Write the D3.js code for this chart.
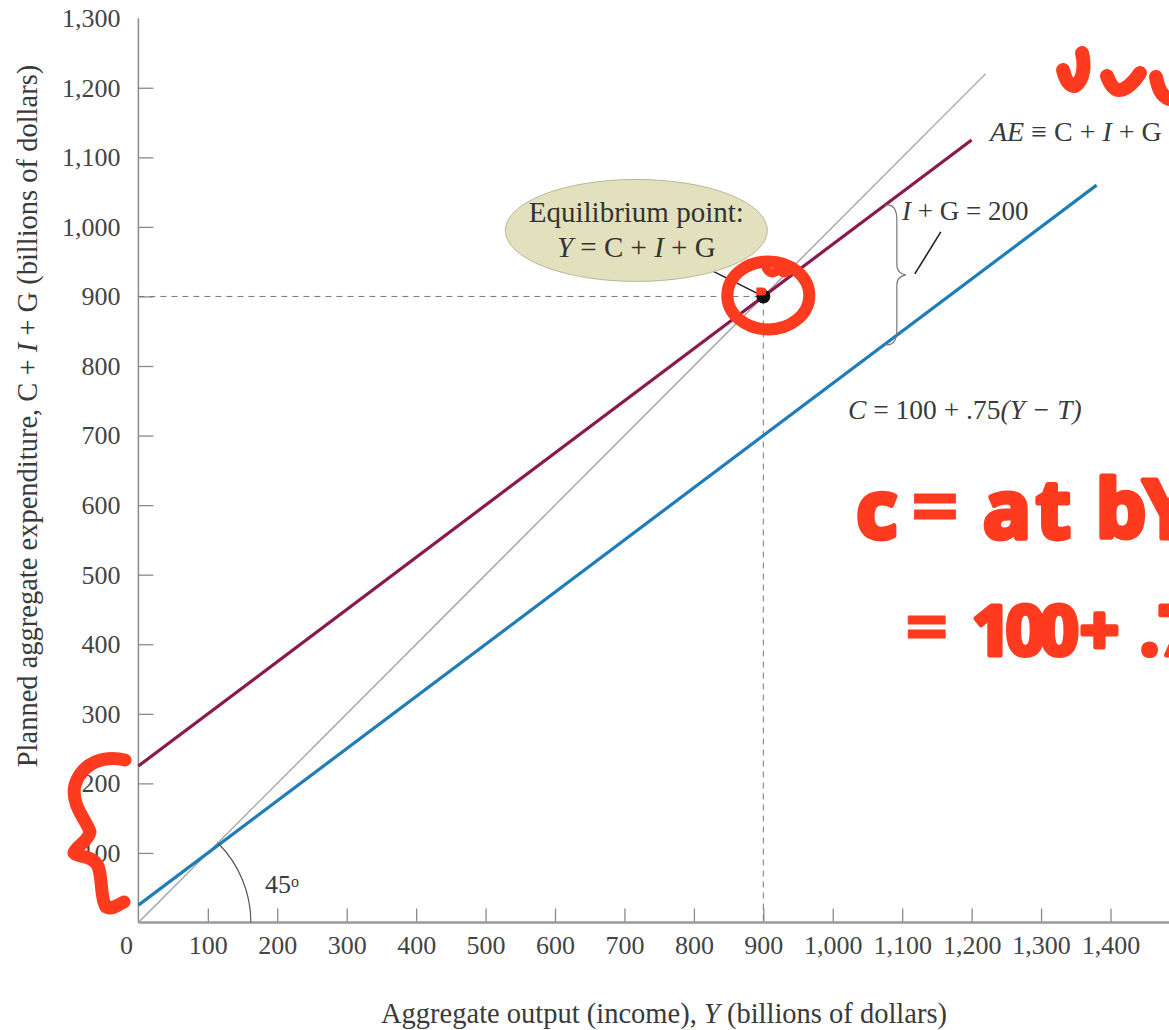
<!DOCTYPE html>
<html>
<head>
<meta charset="utf-8">
<script src="https://cdn.jsdelivr.net/npm/d3@7"></script>
<style>
  html, body { margin: 0; padding: 0; background: #fff; }
  svg text.serif { font-family: "Liberation Serif", "DejaVu Serif", serif; fill: #3a3a3a; }
</style>
</head>
<body>
<div id="graphic"></div>
<script>
// Chart data
var xTicks = [100, 200, 300, 400, 500, 600, 700, 800, 900, 1000, 1100, 1200, 1300, 1400];
var yTicks = [100, 200, 300, 400, 500, 600, 700, 800, 900, 1000, 1100, 1200, 1300];
var diagonal = [[0, 0], [1220, 1220]];            // 45 degree line
var aeLine = [[0, 225], [1200, 1125]];            // AE = C + I + G
var consumption = [[0, 25], [1380, 1060]];        // C = 100 + .75(Y - T)
var equilibrium = [900, 900];
var braceSpan = [1075, 1031, 831];                // x, AE value, C value

var W = 1169, H = 1030;

var svg = d3.select('#graphic').append('svg')
  .attr('width', W)
  .attr('height', H);

var x = d3.scaleLinear().domain([0, 1400]).range([138.4, 1110.5]);
var y = d3.scaleLinear().domain([0, 1300]).range([922.5, 18.2]);
var fmt = d3.format(',');

var line = d3.line()
  .x(function (d) { return x(d[0]); })
  .y(function (d) { return y(d[1]); });

// Axes
var xAxis = svg.append('g')
  .attr('transform', 'translate(0,' + y(0) + ')')
  .call(d3.axisBottom(x).tickValues(xTicks).tickFormat(fmt).tickSize(-14).tickPadding(13));
var yAxis = svg.append('g')
  .attr('transform', 'translate(' + x(0) + ',0)')
  .call(d3.axisLeft(y).tickValues(yTicks).tickFormat(fmt).tickSize(-15).tickPadding(18));

[xAxis, yAxis].forEach(function (g) {
  g.select('.domain').remove();
  g.selectAll('.tick line').attr('stroke', '#8a8a8a').attr('stroke-width', 1.3);
  g.selectAll('.tick text')
    .attr('class', 'serif')
    .style('font-size', '26px')
    .style('fill', '#444');
});
yAxis.selectAll('.tick').filter(function (d) { return d === 1300; }).select('line').remove();

svg.append('line')
  .attr('x1', x(0)).attr('x2', W)
  .attr('y1', y(0)).attr('y2', y(0))
  .attr('stroke', '#9a9a9a').attr('stroke-width', 2.5);
svg.append('line')
  .attr('x1', x(0)).attr('x2', x(0))
  .attr('y1', y(0)).attr('y2', y(1300))
  .attr('stroke', '#8a8a8a').attr('stroke-width', 1.5);

svg.append('text')
  .attr('class', 'serif')
  .attr('x', x(0) - 12).attr('y', y(0) + 13).attr('dy', '0.71em')
  .attr('text-anchor', 'middle')
  .style('font-size', '26px')
  .style('fill', '#444')
  .text('0');

// Axis titles
var xTitle = svg.append('text')
  .attr('class', 'serif')
  .attr('x', 664).attr('y', 1023)
  .attr('text-anchor', 'middle')
  .style('font-size', '28.5px');
xTitle.append('tspan').text('Aggregate output (income), ');
xTitle.append('tspan').style('font-style', 'italic').text('Y');
xTitle.append('tspan').text(' (billions of dollars)');

var yTitle = svg.append('text')
  .attr('class', 'serif')
  .attr('transform', 'translate(37,416) rotate(-90)')
  .attr('text-anchor', 'middle')
  .style('font-size', '28.5px');
yTitle.append('tspan').text('Planned aggregate expenditure,  C + ');
yTitle.append('tspan').style('font-style', 'italic').text('I');
yTitle.append('tspan').text(' + G (billions of dollars)');

// Dashed guides to the equilibrium
svg.append('path')
  .attr('d', line([[0, equilibrium[1]], equilibrium, [equilibrium[0], 0]]))
  .attr('fill', 'none')
  .attr('stroke', '#777')
  .attr('stroke-width', 1)
  .attr('stroke-dasharray', '6,5');

// Lines
svg.append('path')
  .attr('d', line(diagonal))
  .attr('fill', 'none').attr('stroke', '#a0a0a0').attr('stroke-width', 1.3);
svg.append('path')
  .attr('d', line(consumption))
  .attr('fill', 'none').attr('stroke', '#1f7db8').attr('stroke-width', 3.2);
svg.append('path')
  .attr('d', line(aeLine))
  .attr('fill', 'none').attr('stroke', '#8a1a4e').attr('stroke-width', 3.2);

// 45 degree arc
var r = x(162) - x(0);
svg.append('path')
  .attr('d', 'M' + (x(0) + r) + ',' + y(0) + ' A' + r + ',' + r + ' 0 0 0 ' +
    (x(0) + r * Math.SQRT1_2) + ',' + (y(0) - r * Math.SQRT1_2))
  .attr('fill', 'none').attr('stroke', '#555').attr('stroke-width', 1.2);
var deg = svg.append('text')
  .attr('class', 'serif')
  .attr('x', 265).attr('y', 893)
  .style('font-size', '26px');
deg.append('tspan').text('45');
deg.append('tspan').attr('dy', -6).style('font-size', '16px').text('o');

// Equilibrium callout
var ex = x(equilibrium[0]), ey = y(equilibrium[1]);
svg.append('line')
  .attr('x1', ex - 50).attr('y1', ey - 25)
  .attr('x2', ex).attr('y2', ey)
  .attr('stroke', '#222').attr('stroke-width', 1.5);
svg.append('ellipse')
  .attr('cx', ex - 127).attr('cy', ey - 66)
  .attr('rx', 131).attr('ry', 51)
  .attr('fill', '#e3e1bd').attr('stroke', '#b9b79a').attr('stroke-width', 1);
svg.append('text')
  .attr('class', 'serif')
  .attr('x', ex - 127).attr('y', ey - 74)
  .attr('text-anchor', 'middle')
  .style('font-size', '29px').style('fill', '#333')
  .text('Equilibrium point:');
var eqT = svg.append('text')
  .attr('class', 'serif')
  .attr('x', ex - 127).attr('y', ey - 39)
  .attr('text-anchor', 'middle')
  .style('font-size', '29px').style('fill', '#333');
eqT.append('tspan').style('font-style', 'italic').text('Y');
eqT.append('tspan').text(' = C + ');
eqT.append('tspan').style('font-style', 'italic').text('I');
eqT.append('tspan').text(' + G');
svg.append('circle')
  .attr('cx', ex).attr('cy', ey).attr('r', 7)
  .attr('fill', '#111');

// Brace for I + G
var bx = x(braceSpan[0]), bTop = y(braceSpan[1]), bBot = y(braceSpan[2]);
var bMid = (bTop + bBot) / 2;
svg.append('path')
  .attr('d', 'M' + bx + ',' + bTop +
    ' C' + (bx + 8) + ',' + (bTop - 2) + ' ' + (bx + 12) + ',' + (bTop + 4) + ' ' + (bx + 12) + ',' + (bTop + 14) +
    ' L' + (bx + 12) + ',' + (bMid - 10) +
    ' C' + (bx + 12) + ',' + (bMid - 3) + ' ' + (bx + 16) + ',' + (bMid - 1) + ' ' + (bx + 21) + ',' + bMid +
    ' C' + (bx + 16) + ',' + (bMid + 1) + ' ' + (bx + 12) + ',' + (bMid + 3) + ' ' + (bx + 12) + ',' + (bMid + 10) +
    ' L' + (bx + 12) + ',' + (bBot - 14) +
    ' C' + (bx + 12) + ',' + (bBot - 4) + ' ' + (bx + 8) + ',' + (bBot + 2) + ' ' + bx + ',' + bBot)
  .attr('fill', 'none').attr('stroke', '#777').attr('stroke-width', 1.2);
svg.append('line')
  .attr('x1', bx + 30).attr('y1', bMid - 1)
  .attr('x2', bx + 56).attr('y2', bMid - 43)
  .attr('stroke', '#222').attr('stroke-width', 1.6);
var igT = svg.append('text')
  .attr('class', 'serif')
  .attr('x', 902).attr('y', 220)
  .style('font-size', '27px');
igT.append('tspan').style('font-style', 'italic').text('I');
igT.append('tspan').text(' + G = 200');

// Line labels
var aeT = svg.append('text').attr('class', 'serif')
  .attr('x', 990).attr('y', 141).style('font-size', '28px');
aeT.append('tspan').style('font-style', 'italic').text('AE');
aeT.append('tspan').text(' \u2261 C + ');
aeT.append('tspan').style('font-style', 'italic').text('I');
aeT.append('tspan').text(' + G');

var cT = svg.append('text').attr('class', 'serif')
  .attr('x', 848).attr('y', 419).style('font-size', '27.5px');
cT.append('tspan').style('font-style', 'italic').text('C');
cT.append('tspan').text(' = 100 + .75');
cT.append('tspan').style('font-style', 'italic').text('(Y \u2212 T)');

// Red hand annotations
var red = '#ff3b1f';
var scribble = svg.append('g')
  .attr('fill', 'none').attr('stroke', red)
  .attr('stroke-linecap', 'round').attr('stroke-linejoin', 'round');
scribble.append('ellipse')
  .attr('cx', ex + 5).attr('cy', ey - 1).attr('rx', 41).attr('ry', 34)
  .attr('stroke-width', 12);
scribble.append('path')
  .attr('d', 'M' + (ex + 3) + ',' + (ey - 28) + ' q6,9 12,0 q6,9 14,-1')
  .attr('stroke-width', 9);
svg.append('path')
  .attr('d', 'M' + (ex - 7) + ',' + (ey - 9) + ' h6 a4,4 0 0 1 0,8 h-6 z')
  .attr('fill', red);
scribble.append('path')
  .attr('d', 'M125,760 C105,755 82,762 75,785 C70,805 88,822 90,832 C88,842 76,846 74,853 C80,858 92,855 98,866 C103,880 100,898 106,907 C112,910 118,905 124,902')
  .attr('stroke-width', 13);
scribble.append('path')
  .attr('d', 'M1082,53 C1085,65 1084,80 1075,86 C1068,86 1065,78 1063,70')
  .attr('stroke-width', 14);
scribble.append('path')
  .attr('d', 'M1107,76 C1110,84 1114,90 1119,90 C1126,90 1134,82 1140,73')
  .attr('stroke-width', 14);
scribble.append('path')
  .attr('d', 'M1156,77 C1158,88 1161,96 1169,99')
  .attr('stroke-width', 14);

function handText(yPos, size) {
  return svg.append('text')
    .attr('y', yPos)
    .style('font-family', '"Noto Sans", sans-serif')
    .style('font-weight', 'bold')
    .style('font-size', size + 'px')
    .style('fill', red)
    .style('stroke', red)
    .style('stroke-width', 5)
    .style('stroke-linejoin', 'round');
}
var l1 = handText(538, 80);
l1.append('tspan').attr('x', 856).text('c');
l1.append('tspan').attr('x', 911).attr('dy', -2)
  .style('font-size', '84px').style('stroke-width', 1).text('=');
l1.append('tspan').attr('x', 983).attr('dy', 2).text('a');
l1.append('tspan').attr('x', 1036).text('t');
l1.append('tspan').attr('x', 1096).text('b');
l1.append('tspan').attr('x', 1143).text('Y');
var l2 = handText(655, 68);
l2.append('tspan').attr('x', 905).attr('dy', -2)
  .style('font-size', '76px').style('stroke-width', 1).text('=');
l2.append('tspan').attr('x', 972).attr('dy', 2).style('letter-spacing', '-5px').text('100');
l2.append('tspan').attr('x', 1080).text('+');
l2.append('tspan').attr('x', 1140).text('.7');
</script>
</body>
</html>
